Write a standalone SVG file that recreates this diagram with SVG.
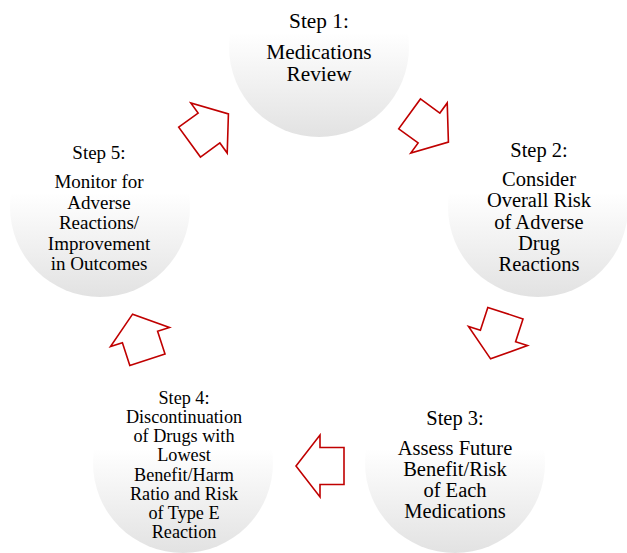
<svg xmlns="http://www.w3.org/2000/svg" width="627" height="553" viewBox="0 0 627 553">
<style>
.c{fill:url(#g);stroke:none}
.t{font-family:'Liberation Serif','Times New Roman',serif;fill:#000;text-anchor:middle}
.a{fill:#fff;stroke:#c00000;stroke-width:1.6;stroke-linejoin:miter}
</style>
<defs>
<linearGradient id="g" x1="0" y1="0" x2="0" y2="1">
<stop offset="0" stop-color="#ffffff"/>
<stop offset="0.42" stop-color="#ffffff"/>
<stop offset="1" stop-color="#e2e2e2"/>
</linearGradient>
<path id="arr" d="M-24,-18.5 L0,-18.5 L0,-31 L24,0 L0,31 L0,18.5 L-24,18.5 Z"/>
</defs>
<rect width="627" height="553" fill="#fff"/>
<g id="node1">
<circle class="c" cx="319" cy="47" r="90"/>
<text class="t" font-size="21.3"><tspan x="319" y="28">Step 1:</tspan><tspan x="319" y="59">Medications</tspan><tspan x="319" y="81">Review</tspan></text>
</g>
<g id="node2">
<circle class="c" cx="538" cy="207" r="90"/>
<text class="t" font-size="20.5"><tspan x="539" y="157">Step 2:</tspan><tspan x="539" y="186">Consider</tspan><tspan x="539" y="207.3">Overall Risk</tspan><tspan x="539" y="228.6">of Adverse</tspan><tspan x="539" y="249.9">Drug</tspan><tspan x="539" y="271.2">Reactions</tspan></text>
</g>
<g id="node3">
<circle class="c" cx="455" cy="463" r="90"/>
<text class="t" font-size="20.5"><tspan x="455" y="425">Step 3:</tspan><tspan x="455" y="454.5">Assess Future</tspan><tspan x="455" y="475.5">Benefit/Risk</tspan><tspan x="455" y="496.5">of Each</tspan><tspan x="455" y="517.5">Medications</tspan></text>
</g>
<g id="node4">
<circle class="c" cx="183" cy="463" r="90"/>
<text class="t" font-size="18.2"><tspan x="184" y="404">Step 4:</tspan><tspan x="184" y="423.1">Discontinuation</tspan><tspan x="184" y="442.3">of Drugs with</tspan><tspan x="184" y="461.4">Lowest</tspan><tspan x="184" y="480.6">Benefit/Harm</tspan><tspan x="184" y="499.7">Ratio and Risk</tspan><tspan x="184" y="518.9">of Type E</tspan><tspan x="184" y="538">Reaction</tspan></text>
</g>
<g id="node5">
<circle class="c" cx="100" cy="207" r="90"/>
<text class="t" font-size="19"><tspan x="99" y="159">Step 5:</tspan><tspan x="99" y="188">Monitor for</tspan><tspan x="99" y="208.5">Adverse</tspan><tspan x="99" y="229">Reactions/</tspan><tspan x="99" y="249.5">Improvement</tspan><tspan x="99" y="270">in Outcomes</tspan></text>
</g>
<g id="connectors">
<use href="#arr" class="a" transform="translate(429,128) rotate(36)"/>
<use href="#arr" class="a" transform="translate(498,336) rotate(108)"/>
<use href="#arr" class="a" transform="translate(320,466) rotate(180)"/>
<use href="#arr" class="a" transform="translate(140,337) rotate(252)"/>
<use href="#arr" class="a" transform="translate(209,128) rotate(324)"/>
</g>
</svg>
